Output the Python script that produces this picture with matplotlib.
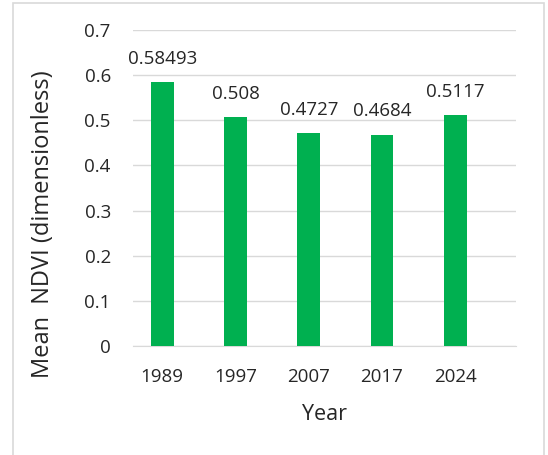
import matplotlib
matplotlib.use("Agg")
import matplotlib.pyplot as plt
from matplotlib.patches import Rectangle

years = ["1989", "1997", "2007", "2017", "2024"]
ndvi = [0.58493, 0.508, 0.4727, 0.4684, 0.5117]
labels = ["0.58493", "0.508", "0.4727", "0.4684", "0.5117"]
yticks = [0, 0.1, 0.2, 0.3, 0.4, 0.5, 0.6, 0.7]

plt.rcParams['font.family'] = ['Open Sans', 'DejaVu Sans']
txt = '#262626'

fig = plt.figure(figsize=(5.48, 4.55), dpi=100)
fig.patches.append(Rectangle((13/548, -0.02), 531/548, (455-3)/455 + 0.02,
                             transform=fig.transFigure, fill=False,
                             edgecolor='#D9D9D9', linewidth=1.2))
ax = fig.add_axes([133/548, 1-346/455, (516-133)/548, (346-30)/455])
x = list(range(len(years)))
ax.bar(x, ndvi, width=0.31, color='#00B050', zorder=3)
for xi, v, l in zip(x, ndvi, labels):
    ax.annotate(l, (xi, v), xytext=(0, 13), textcoords='offset points',
                ha='center', va='baseline', fontsize=13.5, color=txt)
ax.set_xlim(-0.4, 4.83)
ax.set_ylim(0, 0.7)
ax.set_yticks(yticks)
ax.set_yticklabels(["0" if t == 0 else f"{t:.1f}" for t in yticks])
ax.set_xticks(x)
ax.set_xticklabels(years)
ax.yaxis.grid(True, color='#D9D9D9', linewidth=1)
ax.set_axisbelow(True)
for s in ['top', 'right', 'left']:
    ax.spines[s].set_visible(False)
ax.spines['bottom'].set_color('#D9D9D9')
ax.tick_params(axis='both', length=0, labelsize=13.5, colors=txt)
ax.tick_params(axis='y', pad=16)
ax.tick_params(axis='x', pad=16)
ax.set_xlabel("Year", fontsize=15.5, color=txt, labelpad=13)
fig.text(43/548, 1-224/455, "Mean  NDVI (dimensionless)", rotation=90,
         ha='center', va='center', fontsize=17, color=txt)
fig.savefig("out.png", dpi=100)
